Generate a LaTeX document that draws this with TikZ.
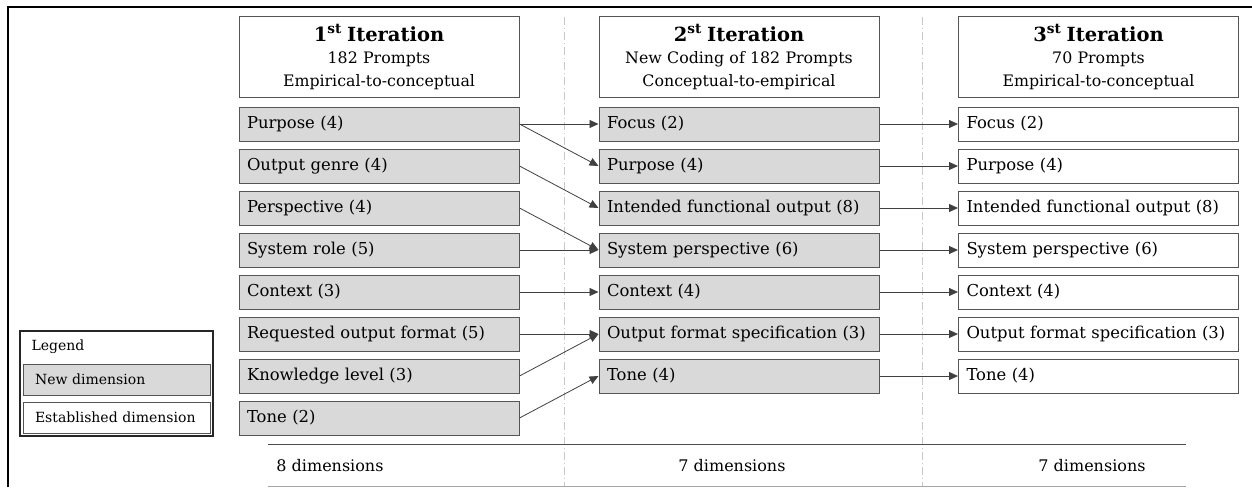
\documentclass[tikz,border=0pt]{standalone}
\usepackage{fontspec}
\setmainfont{DejaVu Serif}
\usetikzlibrary{arrows.meta}
\definecolor{boxfill}{HTML}{D9D9D9}
\definecolor{boxline}{HTML}{555555}
\definecolor{dashgray}{HTML}{C8C8C8}
\tikzset{
  dimbox/.style={draw=boxline, line width=1pt, minimum height=34pt, text width=264pt, inner xsep=8pt, inner ysep=0pt, align=left, font=\fontsize{16.4}{19}\selectfont},
  newdim/.style={dimbox, fill=boxfill},
  olddim/.style={dimbox, fill=white},
  headbox/.style={draw=boxline, line width=1pt, minimum height=80pt, text width=264pt, inner xsep=8pt, align=center, font=\fontsize{15.8}{22.5}\selectfont},
  conn/.style={draw=black!75, line width=0.8pt, -{Triangle[length=9pt,width=8pt]}},
  sep/.style={draw=dashgray, line width=0.8pt, dash pattern=on 8pt off 3pt on 1pt off 3pt},
  legbox/.style={draw=boxline, line width=0.9pt, minimum width=187pt, minimum height=31pt, inner xsep=12pt, text width=163pt, align=left, font=\fontsize{14}{16}\selectfont},
  cnt/.style={font=\fontsize{16}{18}\selectfont}
}
\begin{document}
\begin{tikzpicture}[x=1pt,y=-1pt]
\useasboundingbox (0,0) rectangle (1252,487);
% frame
\draw[line width=2.8pt, black] (8,487) -- (8,7) -- (1252,7);
% separators
\coordinate (s1t) at (564,17); \coordinate (s1b) at (564,487);
\coordinate (s2t) at (922,17); \coordinate (s2b) at (922,487);
\draw[sep] (s1t) -- (s1b);
\draw[sep] (s2t) -- (s2b);
% headers
\node[headbox] (h1) at (379,57) {{\fontsize{19.5}{22}\selectfont\bfseries 1\textsuperscript{st} Iteration}\\182 Prompts\\Empirical-to-conceptual};
\node[headbox] (h2) at (739,57) {{\fontsize{19.5}{22}\selectfont\bfseries 2\textsuperscript{st} Iteration}\\New Coding of 182 Prompts\\Conceptual-to-empirical};
\node[headbox] (h3) at (1098.5,57) {{\fontsize{19.5}{22}\selectfont\bfseries 3\textsuperscript{st} Iteration}\\70 Prompts\\Empirical-to-conceptual};
% column 1
\node[newdim] (a1) at (379,124) {Purpose (4)};
\node[newdim] (a2) at (379,166) {Output genre (4)};
\node[newdim] (a3) at (379,208) {Perspective (4)};
\node[newdim] (a4) at (379,250) {System role (5)};
\node[newdim] (a5) at (379,292) {Context (3)};
\node[newdim] (a6) at (379,334) {Requested output format (5)};
\node[newdim] (a7) at (379,376) {Knowledge level (3)};
\node[newdim] (a8) at (379,418) {Tone (2)};
% column 2
\node[newdim] (b1) at (739,124) {Focus (2)};
\node[newdim] (b2) at (739,166) {Purpose (4)};
\node[newdim] (b3) at (739,208) {Intended functional output (8)};
\node[newdim] (b4) at (739,250) {System perspective (6)};
\node[newdim] (b5) at (739,292) {Context (4)};
\node[newdim] (b6) at (739,334) {Output format specification (3)};
\node[newdim] (b7) at (739,376) {Tone (4)};
% column 3
\node[olddim] (c1) at (1098.5,124) {Focus (2)};
\node[olddim] (c2) at (1098.5,166) {Purpose (4)};
\node[olddim] (c3) at (1098.5,208) {Intended functional output (8)};
\node[olddim] (c4) at (1098.5,250) {System perspective (6)};
\node[olddim] (c5) at (1098.5,292) {Context (4)};
\node[olddim] (c6) at (1098.5,334) {Output format specification (3)};
\node[olddim] (c7) at (1098.5,376) {Tone (4)};
% connectors 1 -> 2
\draw[conn] (a1.east) -- (b1.west);
\draw[conn] (a1.east) -- (b2.west);
\draw[conn] (a2.east) -- (b3.west);
\draw[conn] (a3.east) -- (b4.west);
\draw[conn] (a4.east) -- (b4.west);
\draw[conn] (a5.east) -- (b5.west);
\draw[conn] (a6.east) -- (b6.west);
\draw[conn] (a7.east) -- (b6.west);
\draw[conn] (a8.east) -- (b7.west);
% connectors 2 -> 3
\foreach \i in {1,...,7} {\draw[conn] (b\i.east) -- (c\i.west);}
% bottom rules
\coordinate (r1l) at (268,444); \coordinate (r1r) at (1186,444);
\coordinate (r2l) at (268,486); \coordinate (r2r) at (1186,486);
\draw[black!70, line width=0.9pt] (r1l) -- (r1r);
\draw[black!35, line width=0.9pt] (r2l) -- (r2r);
\node[cnt] (d1) at (330,466) {8 dimensions};
\node[cnt] (d2) at (732,466) {7 dimensions};
\node[cnt] (d3) at (1092,466) {7 dimensions};
% legend
\node[draw=black!85, line width=1.4pt, minimum width=193pt, minimum height=105pt] (leg) at (116.5,383.5) {};
\node[font=\fontsize{14}{16}\selectfont, anchor=west] (legt) at (28,347) {Legend};
\node[legbox, fill=boxfill] (ln) at (116.5,379.5) {New dimension};
\node[legbox, fill=white] (le) at (116.5,417.5) {Established dimension};
\end{tikzpicture}
\end{document}
